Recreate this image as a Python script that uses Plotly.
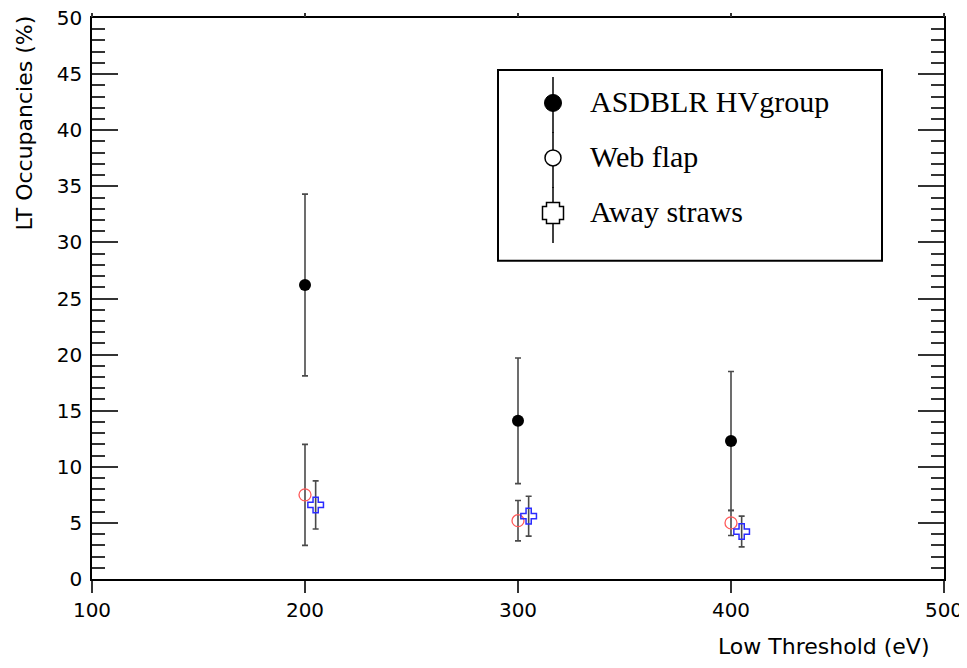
import plotly.graph_objects as go

# ---- data ----
thresholds = [200, 300, 400]
thresholds_away = [205, 305, 405]

asdblr_vals = [26.2, 14.1, 12.3]
asdblr_err = [8.1, 5.6, 6.2]

webflap_vals = [7.5, 5.2, 5.0]
webflap_err = [4.5, 1.8, 1.12]

away_vals = [6.6, 5.6, 4.23]
away_err = [2.15, 1.78, 1.37]

series_names = ["ASDBLR HVgroup", "Web flap", "Away straws"]
x_title = "Low Threshold (eV)"
y_title = "LT Occupancies (%)"

# ---- layout geometry (page pixels) ----
OFF = 8  # default page body margin
W, H = 967 - OFF, 668 - 2 * OFF
L, R, T, B = 92, 944, 18, 579.3  # plot area in page pixels


def px(xp):
    return (xp - L) / (R - L)


def py(yp):
    return (B - yp) / (B - T)


ERRC = "#4a4a4a"
fig = go.Figure()

fig.add_trace(go.Scatter(
    x=thresholds, y=asdblr_vals, mode="markers", name=series_names[0],
    marker=dict(symbol="circle", size=12, color="black"),
    error_y=dict(type="data", array=asdblr_err, color=ERRC, thickness=1.6, width=3),
    showlegend=False))

fig.add_trace(go.Scatter(
    x=thresholds, y=webflap_vals, mode="markers", name=series_names[1],
    marker=dict(symbol="circle", size=12, color="rgba(255,255,255,0)",
                line=dict(color="#ff5a5a", width=1.3)),
    error_y=dict(type="data", array=webflap_err, color=ERRC, thickness=1.6, width=3),
    showlegend=False))

fig.add_trace(go.Scatter(
    x=thresholds_away, y=away_vals, mode="markers", name=series_names[2],
    marker=dict(symbol="cross-open", size=13, color="#2b2bff",
                line=dict(color="#2b2bff", width=1.5)),
    error_y=dict(type="data", array=away_err, color=ERRC, thickness=1.6, width=3),
    showlegend=False))

# invisible trace to carry the top axis ticks
fig.add_trace(go.Scatter(x=[thresholds[0]], y=[asdblr_vals[0]], xaxis="x2",
                         mode="markers", marker=dict(opacity=0), showlegend=False,
                         hoverinfo="skip"))

shapes = []
# legend box
shapes.append(dict(type="rect", xref="paper", yref="paper",
                   x0=px(498), x1=px(882), y0=py(261), y1=py(70),
                   line=dict(color="black", width=2), fillcolor="white", layer="above"))
lx = 553
centers = [103, 158, 213]
for c in centers:
    shapes.append(dict(type="line", xref="paper", yref="paper",
                       x0=px(lx), x1=px(lx), y0=py(c - 26), y1=py(c + 30),
                       line=dict(color="black", width=1.5), layer="above"))
# filled circle
r = 8.5
shapes.append(dict(type="circle", xref="paper", yref="paper",
                   x0=px(lx - r), x1=px(lx + r), y0=py(centers[0] + r), y1=py(centers[0] - r),
                   line=dict(color="black", width=1), fillcolor="black", layer="above"))
# open circle
r = 8
shapes.append(dict(type="circle", xref="paper", yref="paper",
                   x0=px(lx - r), x1=px(lx + r), y0=py(centers[1] + r), y1=py(centers[1] - r),
                   line=dict(color="black", width=1.5), fillcolor="white", layer="above"))
# open cross
o, a = 10.5, 6.5
cy = centers[2]
pts = [(-a, -o), (a, -o), (a, -a), (o, -a), (o, a), (a, a), (a, o), (-a, o),
       (-a, a), (-o, a), (-o, -a), (-a, -a)]
path = "M " + " L ".join(f"{px(lx + dx):.5f},{py(cy + dy):.5f}" for dx, dy in pts) + " Z"
shapes.append(dict(type="path", xref="paper", yref="paper", path=path,
                   line=dict(color="black", width=1.5), fillcolor="white", layer="above"))

annotations = []
for name, c in zip(series_names, centers):
    annotations.append(dict(text=name, xref="paper", yref="paper", x=px(588), y=py(c - 1),
                            xanchor="left", yanchor="middle", showarrow=False,
                            font=dict(family="Liberation Serif", size=30, color="black")))
annotations.append(dict(text=x_title, xref="paper", yref="paper", x=px(931), y=py(647),
                        xanchor="right", yanchor="middle", showarrow=False,
                        font=dict(family="DejaVu Sans", size=22, color="black")))
annotations.append(dict(text=y_title, xref="paper", yref="paper", x=px(25), y=py(14),
                        xanchor="center", yanchor="top", textangle=-90, showarrow=False,
                        font=dict(family="DejaVu Sans", size=22, color="black")))

fig.update_layout(
    width=W, height=H,
    margin=dict(l=L - OFF, r=W - (R - OFF), t=T - OFF, b=H - (B - OFF), pad=0,
                autoexpand=False),
    paper_bgcolor="white", plot_bgcolor="white",
    font=dict(family="DejaVu Sans", size=20, color="black"),
    shapes=shapes, annotations=annotations,
    xaxis=dict(range=[100, 500], tickmode="linear", tick0=100, dtick=100,
               ticks="outside", ticklen=12, tickwidth=1.5, tickcolor="#333",
               showline=True, linecolor="black", linewidth=1.5, mirror=True,
               showgrid=False, zeroline=False, automargin=False,
               ticklabeloverflow="allow",
               tickfont=dict(family="DejaVu Sans", size=20, color="black")),
    xaxis2=dict(range=[100, 500], overlaying="x", side="top", anchor="y",
                tickmode="linear", tick0=100, dtick=100, ticks="outside", ticklen=4,
                tickwidth=1.5, tickcolor="#333", showticklabels=False, automargin=False,
                showline=False, showgrid=False, zeroline=False),
    yaxis=dict(range=[0, 50], tickmode="linear", tick0=0, dtick=5,
               ticks="inside", ticklen=26, tickwidth=1.5, tickcolor="#333",
               minor=dict(ticks="inside", ticklen=13, dtick=1, tickwidth=1.5, tickcolor="#333"),
               showline=True, linecolor="black", linewidth=1.5, mirror="ticks",
               showgrid=False, zeroline=False, ticklabelstandoff=4, automargin=False,
               ticklabeloverflow="allow",
               tickfont=dict(family="DejaVu Sans", size=20, color="black")),
)

fig.write_html("out.html")
